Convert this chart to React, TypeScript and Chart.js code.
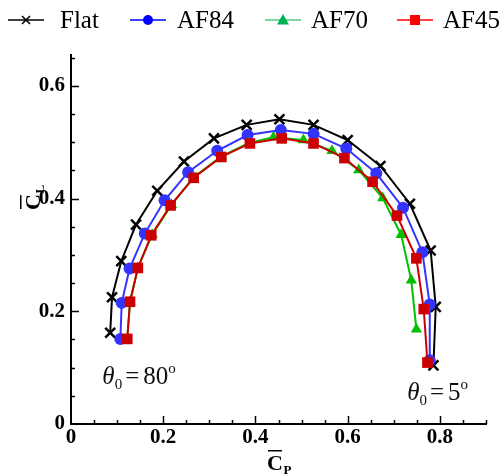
import { useEffect, useRef } from "react";
import { Chart, registerables } from "chart.js";

Chart.register(...registerables);

// Pitch angle of each sample, from the first point (left end) to the last (right end)
const pitchAngles = [80, 75, 70, 65, 60, 55, 50, 45, 40, 35, 30, 25, 20, 15, 10, 5];

const seriesNames = ["Flat", "AF84", "AF70", "AF45"];

// Mean power coefficient (x) and mean lift coefficient (y) per series
const flatCp = [0.085, 0.089, 0.109, 0.141, 0.187, 0.245, 0.310, 0.381, 0.452, 0.526, 0.600, 0.671, 0.735, 0.780, 0.791, 0.786];
const flatCl = [0.162, 0.225, 0.289, 0.354, 0.414, 0.466, 0.507, 0.531, 0.541, 0.531, 0.504, 0.458, 0.391, 0.308, 0.208, 0.104];

const af84Cp = [0.107, 0.110, 0.127, 0.160, 0.203, 0.254, 0.317, 0.383, 0.455, 0.526, 0.597, 0.662, 0.720, 0.762, 0.778, 0.778];
const af84Cl = [0.151, 0.215, 0.276, 0.338, 0.397, 0.447, 0.485, 0.513, 0.522, 0.515, 0.489, 0.445, 0.384, 0.305, 0.212, 0.113];

const af70Cp = [0.122, 0.128, 0.145, 0.176, 0.218, 0.266, 0.326, 0.386, 0.439, 0.504, 0.566, 0.624, 0.676, 0.716, 0.738, 0.749];
const af70Cl = [0.151, 0.217, 0.277, 0.336, 0.389, 0.438, 0.475, 0.499, 0.509, 0.504, 0.485, 0.451, 0.401, 0.336, 0.255, 0.168];

const af45Cp = [0.122, 0.128, 0.145, 0.174, 0.216, 0.266, 0.326, 0.388, 0.457, 0.526, 0.593, 0.654, 0.707, 0.749, 0.765, 0.773];
const af45Cl = [0.151, 0.217, 0.277, 0.335, 0.388, 0.437, 0.474, 0.498, 0.507, 0.498, 0.472, 0.430, 0.370, 0.294, 0.204, 0.109];

const xTickValues = [0, 0.2, 0.4, 0.6, 0.8];
const yTickValues = [0, 0.2, 0.4, 0.6];

const SERIF = '"Liberation Serif", "Times New Roman", Times, serif';

const toPoints = (xs: number[], ys: number[]) => xs.map((x, i) => ({ x, y: ys[i] }));

type LegendItem = {
  name: string;
  line: string;
  fill: string;
  style: "cross" | "circle" | "triangle" | "rect";
  x0: number;
  tx: number;
};

const legendItems: LegendItem[] = [
  { name: seriesNames[0], line: "#000000", fill: "#000000", style: "cross", x0: 8, tx: 60 },
  { name: seriesNames[1], line: "#0000ff", fill: "#0000ff", style: "circle", x0: 130, tx: 177 },
  { name: seriesNames[2], line: "#55c77f", fill: "#00b050", style: "triangle", x0: 265, tx: 311 },
  { name: seriesNames[3], line: "#ff0000", fill: "#ff0000", style: "rect", x0: 397, tx: 443 },
];

function drawMarker(ctx: CanvasRenderingContext2D, style: LegendItem["style"], cx: number, cy: number, color: string) {
  ctx.fillStyle = color;
  ctx.strokeStyle = color;
  if (style === "cross") {
    ctx.lineWidth = 1.6;
    ctx.beginPath();
    ctx.moveTo(cx - 4, cy - 4);
    ctx.lineTo(cx + 4, cy + 4);
    ctx.moveTo(cx + 4, cy - 4);
    ctx.lineTo(cx - 4, cy + 4);
    ctx.stroke();
  } else if (style === "circle") {
    ctx.beginPath();
    ctx.arc(cx, cy, 5, 0, Math.PI * 2);
    ctx.fill();
  } else if (style === "triangle") {
    ctx.beginPath();
    ctx.moveTo(cx, cy - 6);
    ctx.lineTo(cx + 6, cy + 4.5);
    ctx.lineTo(cx - 6, cy + 4.5);
    ctx.closePath();
    ctx.fill();
  } else {
    ctx.fillRect(cx - 5, cy - 5, 10, 10);
  }
}

// "C" with an overbar and a subscript, drawn from (x, base)
function drawMeanCoef(ctx: CanvasRenderingContext2D, x: number, base: number, sub: string) {
  ctx.fillStyle = "#000";
  ctx.textBaseline = "alphabetic";
  ctx.textAlign = "left";
  ctx.font = `bold 22px ${SERIF}`;
  ctx.fillText("C", x, base);
  const w = ctx.measureText("C").width;
  ctx.fillRect(x + 1, base - 20, w - 2, 1.5);
  ctx.font = `bold 13px ${SERIF}`;
  ctx.fillText(sub, x + w + 0.5, base + 4);
}

// "θ0 = N°" label
function drawPitchLabel(ctx: CanvasRenderingContext2D, x: number, base: number, deg: number) {
  ctx.fillStyle = "#111";
  ctx.textBaseline = "alphabetic";
  ctx.textAlign = "left";
  let cx = x;
  ctx.font = `italic 25px ${SERIF}`;
  ctx.fillText("θ", cx, base);
  cx += ctx.measureText("θ").width;
  ctx.font = `15px ${SERIF}`;
  ctx.fillText("0", cx, base + 5);
  cx += ctx.measureText("0").width + 3;
  ctx.font = `25px ${SERIF}`;
  ctx.fillText("=", cx, base);
  cx += ctx.measureText("=").width + 4;
  const num = String(deg);
  ctx.fillText(num, cx, base);
  cx += ctx.measureText(num).width;
  ctx.font = `15px ${SERIF}`;
  ctx.fillText("o", cx, base - 11);
}

const decorPlugin = {
  id: "decor",
  beforeDatasetsDraw(chart: any) {
    const { ctx, chartArea, scales } = chart;
    const xs = scales.x;
    const ys = scales.y;
    ctx.save();
    ctx.strokeStyle = "#000";
    ctx.lineWidth = 1.5;
    ctx.beginPath();
    // inward ticks every 0.05, longer at each 0.2
    for (let i = 1; i * 0.05 <= xs.max + 1e-9; i++) {
      const px = Math.round(xs.getPixelForValue(i * 0.05)) + 0.5;
      const len = i % 4 === 0 ? 8 : 4;
      ctx.moveTo(px, chartArea.bottom);
      ctx.lineTo(px, chartArea.bottom - len);
    }
    for (let i = 1; i * 0.05 <= ys.max + 1e-9; i++) {
      const py = Math.round(ys.getPixelForValue(i * 0.05)) + 0.5;
      const len = i % 4 === 0 ? 8 : 4;
      ctx.moveTo(chartArea.left, py);
      ctx.lineTo(chartArea.left + len, py);
    }
    ctx.stroke();
    ctx.restore();
  },
  afterDraw(chart: any) {
    const { ctx, scales } = chart;
    const xs = scales.x;
    const ys = scales.y;
    ctx.save();

    // legend row
    const ly = 20;
    for (const it of legendItems) {
      ctx.strokeStyle = it.line;
      ctx.lineWidth = 1.3;
      ctx.beginPath();
      ctx.moveTo(it.x0, ly);
      ctx.lineTo(it.x0 + 36, ly);
      ctx.stroke();
      drawMarker(ctx, it.style, it.x0 + 18, ly, it.fill);
      ctx.fillStyle = "#000";
      ctx.font = `25px ${SERIF}`;
      ctx.textBaseline = "middle";
      ctx.textAlign = "left";
      ctx.fillText(it.name, it.tx, ly + 1);
    }

    // axis titles
    drawMeanCoef(ctx, 267, 470, "P");
    ctx.save();
    ctx.translate(40, 210);
    ctx.rotate(-Math.PI / 2);
    drawMeanCoef(ctx, 0, 0, "L");
    ctx.restore();

    // pitch-angle labels at both ends of the curves
    drawPitchLabel(ctx, xs.getPixelForValue(0.068), ys.getPixelForValue(0.071), pitchAngles[0]);
    drawPitchLabel(ctx, xs.getPixelForValue(0.729), ys.getPixelForValue(0.0425), pitchAngles[pitchAngles.length - 1]);

    ctx.restore();
  },
};

export default function App() {
  const canvasRef = useRef<HTMLCanvasElement | null>(null);

  useEffect(() => {
    const canvas = canvasRef.current;
    if (!canvas) return;

    const tickFont = { family: SERIF, size: 21, weight: "bold" as const };

    const chart = new Chart(canvas, {
      type: "scatter",
      data: {
        datasets: [
          {
            label: seriesNames[3],
            data: toPoints(af45Cp, af45Cl),
            showLine: true,
            borderColor: "#cc0000",
            backgroundColor: "#cc0000",
            borderWidth: 2,
            pointStyle: "rect",
            pointRadius: 7.5,
            pointBorderWidth: 0,
            pointBackgroundColor: "#cc0000",
          },
          {
            label: seriesNames[2],
            data: toPoints(af70Cp, af70Cl),
            showLine: true,
            borderColor: "#00c000",
            backgroundColor: "#00c000",
            borderWidth: 2,
            pointStyle: "triangle",
            pointRadius: 6.5,
            pointBorderWidth: 0,
            pointBackgroundColor: "#00c000",
          },
          {
            label: seriesNames[1],
            data: toPoints(af84Cp, af84Cl),
            showLine: true,
            borderColor: "#3333ff",
            backgroundColor: "#3333ff",
            borderWidth: 2,
            pointStyle: "circle",
            pointRadius: 6,
            pointBorderWidth: 0,
            pointBackgroundColor: "#3333ff",
          },
          {
            label: seriesNames[0],
            data: toPoints(flatCp, flatCl),
            showLine: true,
            borderColor: "#000000",
            backgroundColor: "#000000",
            borderWidth: 2,
            pointStyle: "crossRot",
            pointRadius: 7,
            pointBorderWidth: 2.5,
            pointBorderColor: "#000000",
          },
        ],
      },
      options: {
        animation: false,
        responsive: false,
        devicePixelRatio: 1,
        clip: false,
        layout: { padding: { top: 55, right: 18, left: 0, bottom: 0 } },
        plugins: {
          legend: { display: false },
          tooltip: { enabled: false },
        },
        scales: {
          x: {
            type: "linear",
            position: "bottom",
            min: 0,
            max: 0.9,
            grid: { display: false, drawTicks: false },
            border: { display: true, color: "#000", width: 2 },
            ticks: {
              font: tickFont,
              color: "#000",
              padding: 1,
              maxRotation: 0,
              autoSkip: false,
              callback: (v: any) => String(Math.round(Number(v) * 10) / 10),
            },
            afterBuildTicks: (scale: any) => {
              scale.ticks = xTickValues.map((value) => ({ value }));
            },
            afterFit: (scale: any) => {
              scale.height = 52;
            },
          },
          y: {
            type: "linear",
            min: 0,
            max: 0.655,
            grid: { display: false, drawTicks: false },
            border: { display: true, color: "#000", width: 2 },
            ticks: {
              font: tickFont,
              color: "#000",
              padding: 6,
              autoSkip: false,
              callback: (v: any) => String(Math.round(Number(v) * 10) / 10),
            },
            afterBuildTicks: (scale: any) => {
              scale.ticks = yTickValues.map((value) => ({ value }));
            },
            afterFit: (scale: any) => {
              scale.width = 71;
            },
          },
        },
      },
      plugins: [decorPlugin],
    });

    return () => chart.destroy();
  }, []);

  return (
    <div style={{ position: "fixed", left: 0, top: 0, width: 504, height: 476, background: "#fff" }}>
      <canvas ref={canvasRef} width={504} height={476} style={{ display: "block" }} />
    </div>
  );
}
